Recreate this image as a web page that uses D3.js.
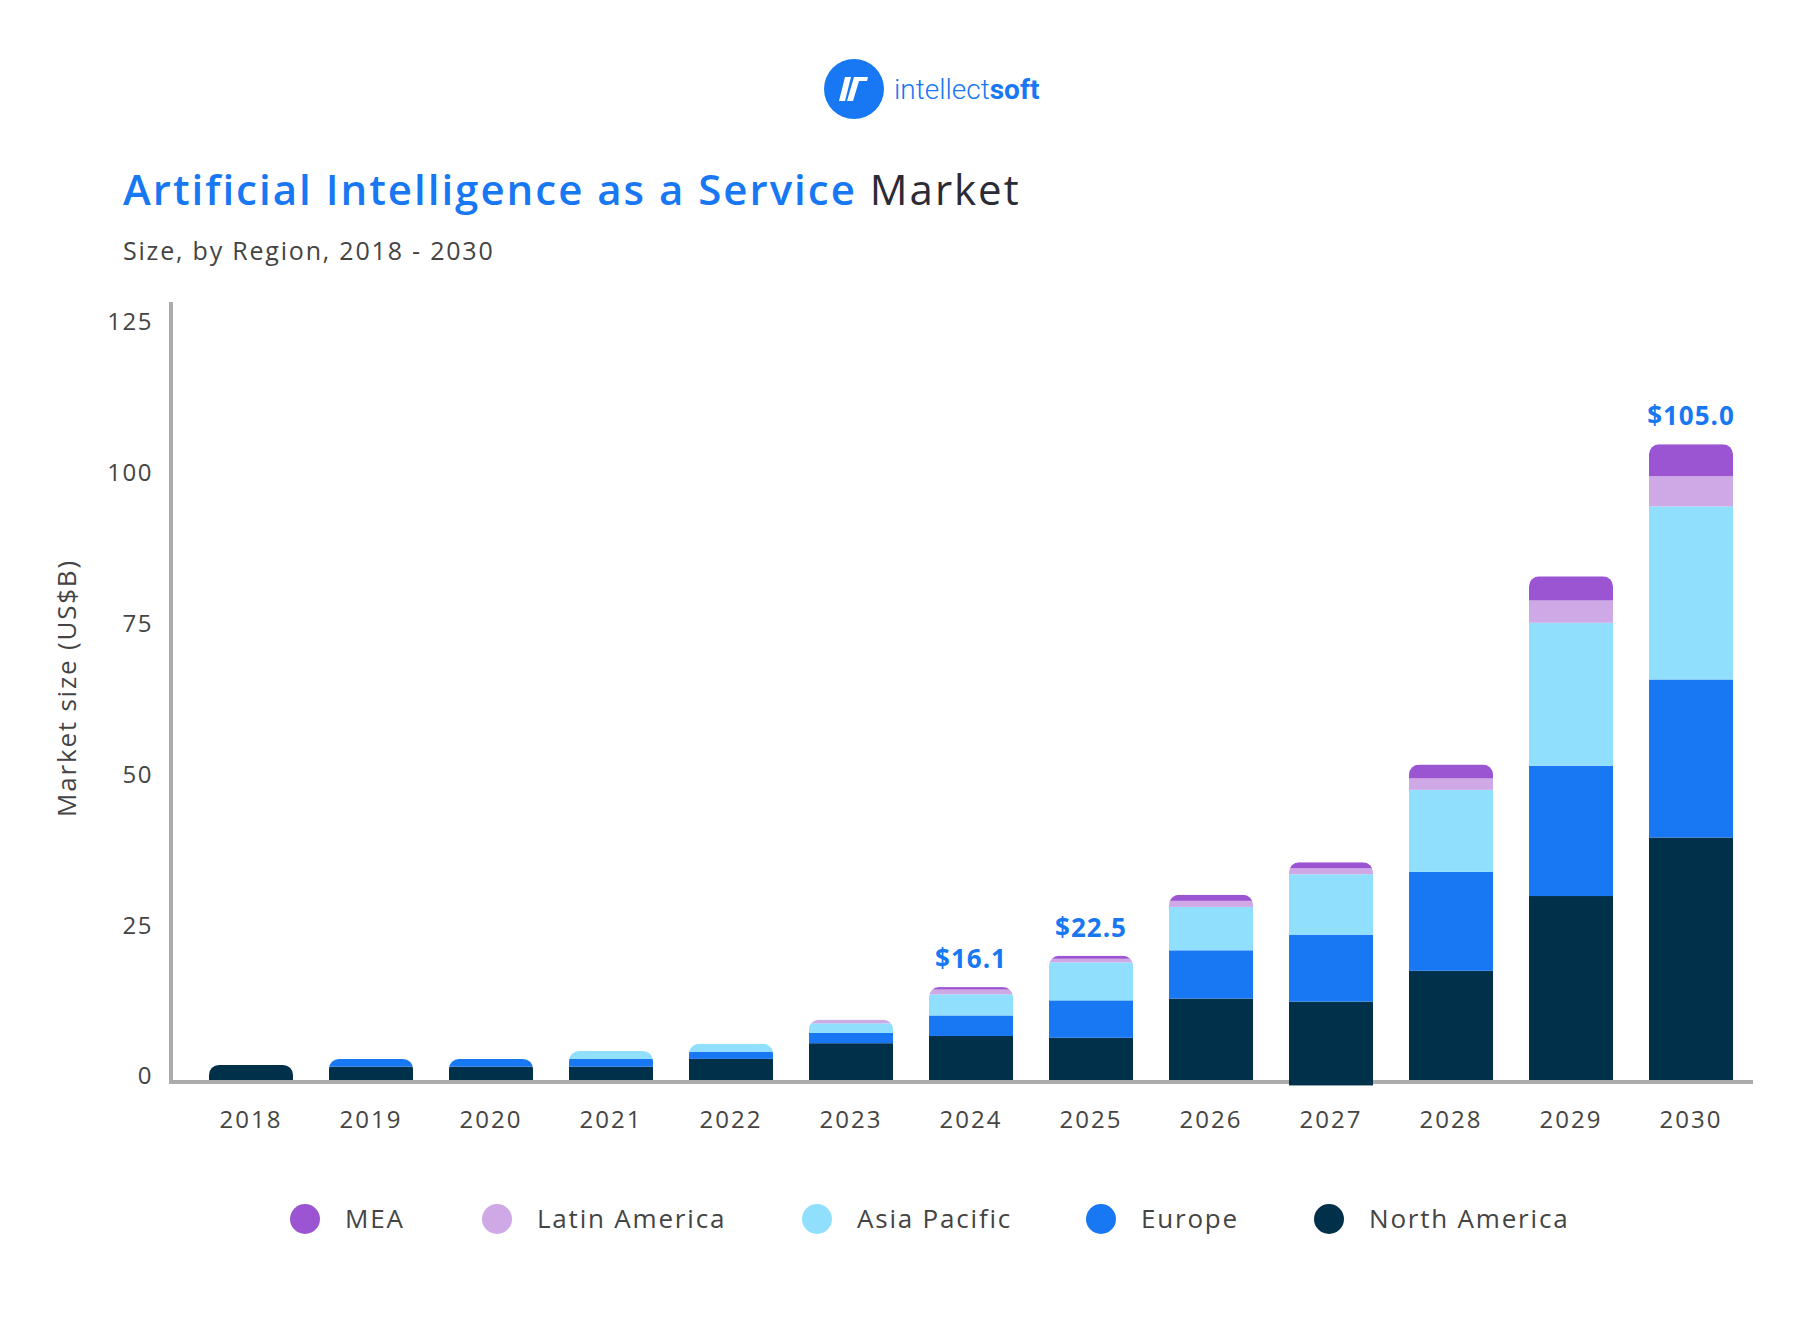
<!DOCTYPE html>
<html>
<head>
<meta charset="utf-8">
<script src="https://cdn.jsdelivr.net/npm/d3@7"></script>
<style>
  body { margin: 0; background: #fff; }
  svg { display: block; font-family: "Open Sans", "DejaVu Sans", sans-serif; }
</style>
</head>
<body>
<svg id="chart"></svg>
<script>
// Données (US$B)
const years = ["2018", "2019", "2020", "2021", "2022", "2023", "2024", "2025", "2026", "2027", "2028", "2029", "2030"];
const northAmerica = [2.5, 2.2, 2.2, 2.2, 3.5, 6.1, 7.3, 7.0, 13.5, 13.0, 18.1, 30.5, 40.2];
const europe       = [0, 1.3, 1.3, 1.3, 1.2, 1.7, 3.4, 6.2, 8.0, 11.1, 16.4, 21.6, 26.2];
const asiaPacific  = [0, 0, 0, 1.3, 1.3, 1.6, 3.5, 6.3, 7.2, 10.0, 13.6, 23.7, 28.7];
const latinAmerica = [0, 0, 0, 0, 0, 0.6, 0.8, 0.6, 1.0, 1.0, 1.9, 3.7, 5.0];
const mea          = [0, 0, 0, 0, 0, 0, 0.4, 0.5, 1.0, 1.0, 2.3, 4.0, 5.3];
// la barre 2027 descend un peu sous l'axe dans l'original
const barFloor     = [0, 0, 0, 0, 0, 0, 0, 0, 0, -0.9, 0, 0, 0];

const calloutYears  = ["2024", "2025", "2030"];
const calloutLabels = ["$16.1", "$22.5", "$105.0"];

const yTicks = [0, 25, 50, 75, 100, 125];

const seriesKeys   = ["northAmerica", "europe", "asiaPacific", "latinAmerica", "mea"];
const seriesNames  = ["North America", "Europe", "Asia Pacific", "Latin America", "MEA"];
const seriesColors = ["#00304A", "#1877F2", "#8FDFFD", "#CFA8E6", "#9B55D2"];

const W = 1800, H = 1320;
const svg = d3.select("#chart").attr("width", W).attr("height", H);

// Tableau pour d3.stack
const data = years.map((y, i) => ({
  year: y,
  northAmerica: northAmerica[i],
  europe: europe[i],
  asiaPacific: asiaPacific[i],
  latinAmerica: latinAmerica[i],
  mea: mea[i],
  floor: barFloor[i]
}));

// Échelles
const x = d3.scaleBand()
  .domain(years)
  .range([191, 1751])
  .paddingInner(0.3)
  .paddingOuter(0.15);

const y = d3.scaleLinear()
  .domain([0, 125])
  .range([1080, 326]);

const color = d3.scaleOrdinal().domain(seriesKeys).range(seriesColors);

// Logo
const logo = svg.append("g").attr("transform", "translate(854,89)");
logo.append("circle").attr("r", 30).attr("fill", "#1877F2");
logo.append("path")
  .attr("d", "M-9,-12 L-3,-12 L-9,12 L-15,12 Z")
  .attr("fill", "#fff");
logo.append("path")
  .attr("d", "M0,-12 L14,-12 L13,-8 L5,-8 L-1,12 L-7,12 Z")
  .attr("fill", "#fff");
svg.append("text")
  .attr("x", 894).attr("y", 99)
  .style("font-family", "Roboto, sans-serif")
  .style("font-size", "28px")
  .attr("fill", "#1877F2")
  .call(t => {
    t.append("tspan").style("font-weight", 300).text("intellect");
    t.append("tspan").style("font-weight", 700).text("soft");
  });

// Titre (Montserrat absente : on élargit avec letter-spacing)
svg.append("text")
  .attr("x", 123).attr("y", 205)
  .style("font-size", "42px")
  .style("letter-spacing", "2px")
  .call(t => {
    t.append("tspan").attr("fill", "#1877F2").style("font-weight", 600)
      .text("Artificial Intelligence as a Service");
    t.append("tspan").attr("fill", "#2B2B36").style("font-weight", 400)
      .text(" Market");
  });

svg.append("text")
  .attr("x", 123).attr("y", 260)
  .style("font-size", "25px")
  .style("letter-spacing", "1.8px")
  .attr("fill", "#444")
  .text("Size, by Region, 2018 - 2030");

// Barres empilées
const stacked = d3.stack().keys(seriesKeys)(data);

// chaque barre a le haut arrondi : clipPath par année
const defs = svg.append("defs");
data.forEach((d, i) => {
  const total = seriesKeys.reduce((s, k) => s + d[k], 0);
  defs.append("clipPath").attr("id", "clip-" + i)
    .append("rect")
    .attr("x", x(d.year))
    .attr("y", y(total))
    .attr("width", x.bandwidth())
    .attr("height", y(d.floor) - y(total) + 20)
    .attr("rx", 10);
});

// Axes
svg.append("line")
  .attr("x1", 171).attr("x2", 171)
  .attr("y1", 302).attr("y2", 1082)
  .attr("stroke", "#ABABAB").attr("stroke-width", 4);

svg.append("line")
  .attr("x1", 169).attr("x2", 1753)
  .attr("y1", y(0) + 2).attr("y2", y(0) + 2)
  .attr("stroke", "#ABABAB").attr("stroke-width", 4);

const barGroups = svg.append("g").selectAll("g")
  .data(data)
  .join("g")
  .attr("clip-path", (d, i) => `url(#clip-${i})`);

barGroups.selectAll("rect")
  .data((d, i) => stacked.map(s => ({ key: s.key, y0: s.index === 0 ? d.floor : s[i][0], y1: s[i][1], year: d.year })))
  .join("rect")
  .attr("x", d => x(d.year))
  .attr("y", d => y(d.y1))
  .attr("width", x.bandwidth())
  .attr("height", d => Math.max(0, y(d.y0) - y(d.y1)))
  .attr("fill", d => color(d.key));

svg.append("g").selectAll("text")
  .data(yTicks)
  .join("text")
  .attr("x", 153)
  .attr("y", d => y(d) - 4)
  .attr("dy", "0.35em")
  .attr("text-anchor", "end")
  .style("font-size", "24px")
  .style("letter-spacing", "1.5px")
  .attr("fill", "#444")
  .text(d => d);

svg.append("g").selectAll("text")
  .data(years)
  .join("text")
  .attr("x", d => x(d) + x.bandwidth() / 2)
  .attr("y", 1128)
  .attr("text-anchor", "middle")
  .style("font-size", "24px")
  .style("letter-spacing", "2px")
  .attr("fill", "#444")
  .text(d => d);

svg.append("text")
  .attr("transform", "translate(76,688) rotate(-90)")
  .attr("text-anchor", "middle")
  .style("font-size", "26px")
  .style("letter-spacing", "1.8px")
  .attr("fill", "#444")
  .text("Market size (US$B)");

// Étiquettes de valeur
svg.append("g").selectAll("text")
  .data(calloutYears)
  .join("text")
  .attr("x", d => x(d) + x.bandwidth() / 2)
  .attr("y", d => {
    const r = data.find(e => e.year === d);
    return y(seriesKeys.reduce((s, k) => s + r[k], 0)) - 19;
  })
  .attr("text-anchor", "middle")
  .style("font-size", "26px")
  .style("font-weight", 700)
  .style("letter-spacing", "1px")
  .attr("fill", "#1877F2")
  .text((d, i) => calloutLabels[i]);

// Légende
const legendX = [305, 497, 817, 1101, 1329];
const legendOrder = [4, 3, 2, 1, 0];
const legend = svg.append("g").selectAll("g")
  .data(legendOrder)
  .join("g")
  .attr("transform", (d, i) => `translate(${legendX[i]},1219)`);

legend.append("circle").attr("r", 15).attr("fill", d => seriesColors[d]);
legend.append("text")
  .attr("x", 40)
  .attr("dy", "0.35em")
  .style("font-size", "26px")
  .style("letter-spacing", "1.8px")
  .attr("fill", "#444")
  .text(d => seriesNames[d]);
</script>
</body>
</html>
